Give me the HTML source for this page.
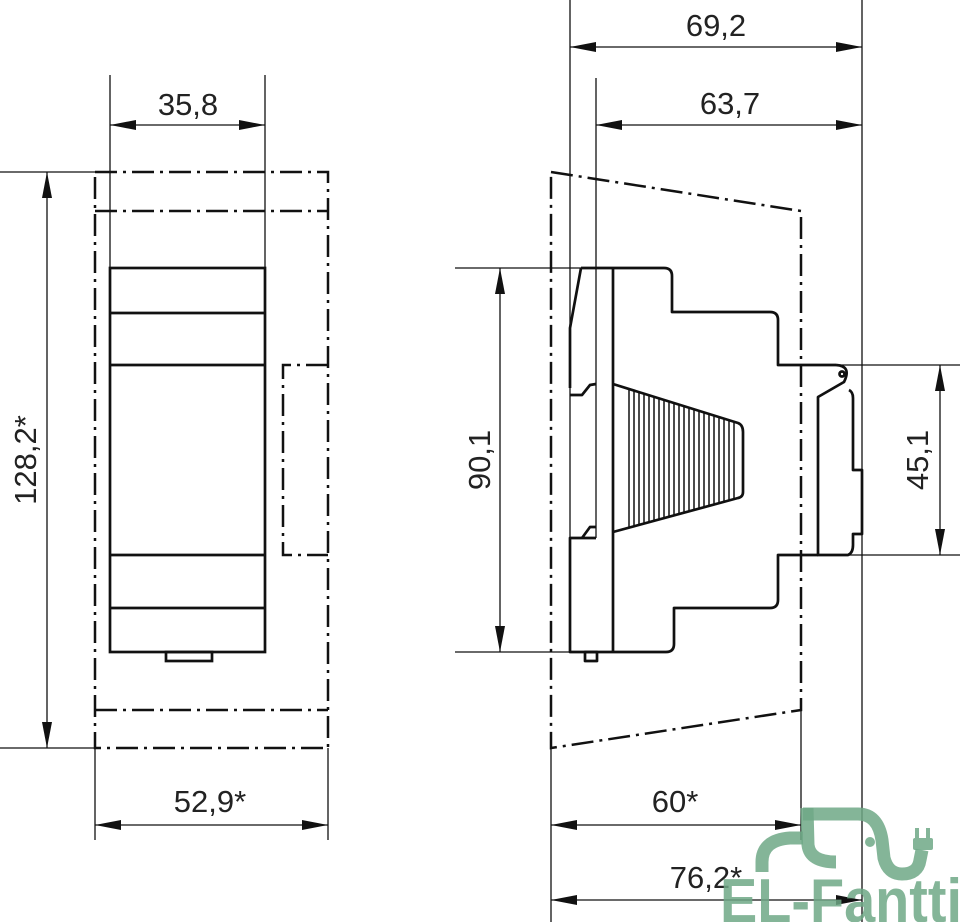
<!DOCTYPE html>
<html><head><meta charset="utf-8"><style>html,body{margin:0;padding:0;background:#fff}svg{display:block}</style></head><body>
<svg width="960" height="922" viewBox="0 0 960 922" xmlns="http://www.w3.org/2000/svg">
<defs>
<marker id="a" markerWidth="26" markerHeight="10" refX="26" refY="5" orient="auto-start-reverse" markerUnits="userSpaceOnUse"><path d="M0,0 L26,5 L0,10 Z" fill="#111"/></marker>
</defs>
<g stroke="#111" fill="none" font-family="Liberation Sans, sans-serif">
<g stroke-width="1.3">
<line x1="110" y1="75" x2="110" y2="268"/><line x1="265" y1="75" x2="265" y2="268"/>
<line x1="110" y1="125" x2="265" y2="125" marker-start="url(#a)" marker-end="url(#a)"/>
<line x1="0" y1="172" x2="95" y2="172"/><line x1="0" y1="748" x2="95" y2="748"/>
<line x1="47" y1="172" x2="47" y2="748" marker-start="url(#a)" marker-end="url(#a)"/>
<line x1="95" y1="748" x2="95" y2="840"/><line x1="328" y1="748" x2="328" y2="840"/>
<line x1="95" y1="825" x2="328" y2="825" marker-start="url(#a)" marker-end="url(#a)"/>
</g>
<g stroke-width="2.5" stroke-dasharray="22,6,3,6">
<rect x="95" y="172" width="233" height="576"/>
<line x1="95" y1="211" x2="328" y2="211"/><line x1="95" y1="710" x2="328" y2="710"/>
<polyline points="328,365 283,365 283,555 328,555"/>
</g>
<g stroke-width="2.7">
<rect x="110" y="268" width="155" height="384"/>
<line x1="110" y1="313" x2="265" y2="313"/><line x1="110" y1="365" x2="265" y2="365"/>
<line x1="110" y1="555" x2="265" y2="555"/><line x1="110" y1="608" x2="265" y2="608"/>
<rect x="166" y="652" width="46" height="9"/>
</g>
<g stroke-width="1.3">
<line x1="570" y1="0" x2="570" y2="652"/><line x1="862" y1="0" x2="862" y2="922"/>
<line x1="570" y1="47" x2="862" y2="47" marker-start="url(#a)" marker-end="url(#a)"/>
<line x1="596" y1="78" x2="596" y2="538"/>
<line x1="596" y1="125" x2="862" y2="125" marker-start="url(#a)" marker-end="url(#a)"/>
<line x1="455" y1="268" x2="582" y2="268"/><line x1="455" y1="652" x2="570" y2="652"/>
<line x1="500" y1="268" x2="500" y2="652" marker-start="url(#a)" marker-end="url(#a)"/>
<line x1="800" y1="365" x2="960" y2="365"/><line x1="800" y1="555" x2="960" y2="555"/>
<line x1="940" y1="365" x2="940" y2="555" marker-start="url(#a)" marker-end="url(#a)"/>
<line x1="551" y1="748" x2="551" y2="922"/><line x1="801" y1="710" x2="801" y2="840"/>
<line x1="551" y1="825" x2="801" y2="825" marker-start="url(#a)" marker-end="url(#a)"/>
<line x1="551" y1="900" x2="862" y2="900" marker-start="url(#a)" marker-end="url(#a)"/>
</g>
<g stroke-width="2.5" stroke-dasharray="22,6,3,6">
<polyline points="551,172 801,211 801,710 551,748 551,172"/>
</g>
<g stroke-width="2.7" stroke-linejoin="round">
<path d="M581,268 L664,268 Q672,268 672,276 L672,312 L770,312 Q778,312 778,320 L778,365 L836,365"/>
<path d="M836,365 Q852,366 844,382 L818,397 L818,555 L848,555 Q853,553 853,545 L853,534 L862,534 L862,470 L853,470 L853,398 Q853,392 849,390"/>
<circle cx="842" cy="374" r="2.5"/>
<path d="M818,555 L778,555 L778,600 Q778,608 770,608 L674,608 L674,644 Q674,652 666,652 L570,652 L570,538 L596,538"/>
<path d="M570,388 L570,328 L581,268"/>
<path d="M570,395 L582,395 L590,385 L596,384"/>
<path d="M582,538 L590,527 L596,527"/>
<line x1="613" y1="268" x2="613" y2="652"/>
<path d="M613,384 L738,423 Q743,425 743,432 L743,492 Q743,497 738,498 L613,532"/>
<rect x="585" y="652" width="12" height="9"/>
</g>
<g stroke-width="1.5">
<line x1="629" y1="389" x2="629" y2="528"/><line x1="634" y1="391" x2="634" y2="527"/><line x1="639" y1="392" x2="639" y2="525"/><line x1="644" y1="394" x2="644" y2="524"/><line x1="649" y1="395" x2="649" y2="523"/><line x1="654" y1="397" x2="654" y2="521"/><line x1="659" y1="398" x2="659" y2="520"/><line x1="664" y1="400" x2="664" y2="519"/><line x1="669" y1="401" x2="669" y2="517"/><line x1="674" y1="403" x2="674" y2="516"/><line x1="679" y1="405" x2="679" y2="515"/><line x1="684" y1="406" x2="684" y2="513"/><line x1="689" y1="408" x2="689" y2="512"/><line x1="694" y1="409" x2="694" y2="510"/><line x1="699" y1="411" x2="699" y2="509"/><line x1="704" y1="412" x2="704" y2="508"/><line x1="709" y1="414" x2="709" y2="506"/><line x1="714" y1="415" x2="714" y2="505"/><line x1="719" y1="417" x2="719" y2="503"/><line x1="724" y1="419" x2="724" y2="502"/><line x1="729" y1="420" x2="729" y2="501"/><line x1="734" y1="422" x2="734" y2="499"/>
</g>
</g>
<g fill="#222" font-family="Liberation Sans, sans-serif" font-size="31" text-anchor="middle">
<text x="188" y="115">35,8</text>
<text x="210" y="812">52,9*</text>
<text x="716" y="36">69,2</text>
<text x="730" y="114">63,7</text>
<text x="675" y="812">60*</text>
<text x="706" y="888">76,2*</text>
<text transform="translate(36,460) rotate(-90)">128,2*</text>
<text transform="translate(490,460) rotate(-90)">90,1</text>
<text transform="translate(928,460) rotate(-90)">45,1</text>
</g>
<g stroke="#6fa886" stroke-opacity="0.85" fill="none" stroke-width="13" stroke-linecap="butt">
<path d="M762,872 L762,862 Q762,840 790,838 L803,838"/>
<path d="M807,808 L808,845 Q810,862 836,862"/>
<path d="M803,814 L858,814 Q878,814 882,840 L884,858 Q888,874 902,874 Q918,874 920,860 L922,850"/>
</g>
<g fill="#6fa886" fill-opacity="0.85">
<circle cx="870" cy="842" r="5"/>
<rect x="913" y="838" width="20" height="12" rx="2"/>
<rect x="915" y="828" width="4" height="10"/><rect x="926" y="828" width="4" height="10"/>
<text x="720" y="922" font-family="Liberation Sans, sans-serif" font-weight="bold" font-size="62" textLength="242" lengthAdjust="spacingAndGlyphs">EL-Fantti</text>
</g>
</svg>
</body></html>
